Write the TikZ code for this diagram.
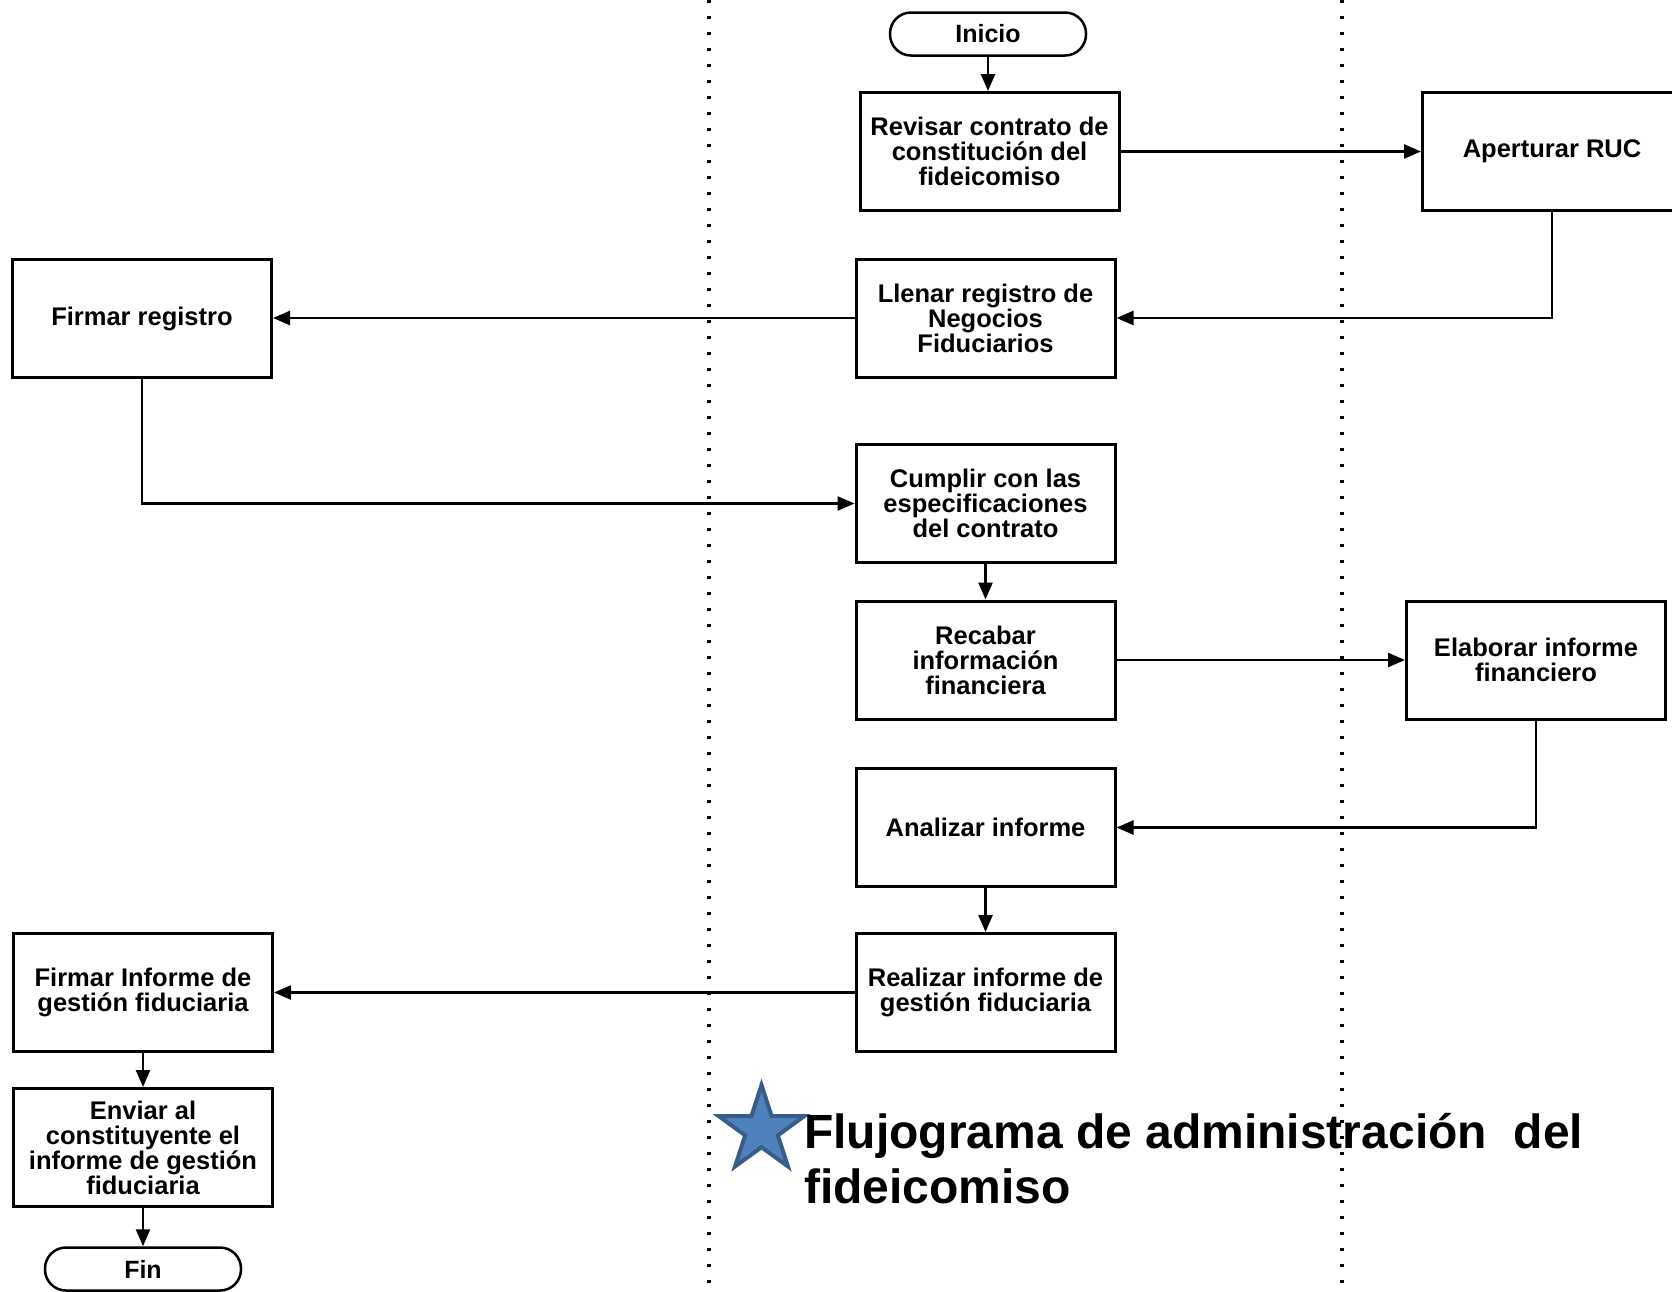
\documentclass[tikz,border=0pt]{standalone}
\usepackage{fontspec}
\setmainfont{Liberation Sans}
\usetikzlibrary{arrows.meta,shapes.geometric}
\definecolor{starfill}{HTML}{4F81BD}
\definecolor{staredge}{HTML}{385D8A}
\begin{document}
\begin{tikzpicture}[x=1pt,y=-1pt,
  stepbox/.style={draw, line width=3pt, minimum width=259pt, minimum height=118pt,
    inner sep=0pt, align=center, font=\fontsize{25.5}{25}\selectfont\bfseries},
  termbox/.style={draw, line width=2.5pt, rounded corners=21pt, minimum width=196pt,
    minimum height=43pt, inner sep=0pt, font=\fontsize{25}{25}\selectfont\bfseries},
  flow/.style={line width=2.5pt, -{Triangle[length=17pt,width=14pt]}},
  lane/.style={line width=3.5pt, dash pattern=on 3pt off 13pt}]

\useasboundingbox (0,0) rectangle (1672,1291);

% swimlane separators
\draw[lane] (709,0) -- (709,1291);
\draw[lane] (1342,0) -- (1342,1291);

% process steps
\node[termbox] (inicio) at (988,34) {Inicio};
\node[stepbox] (revisar) at (989.5,151.5) {Revisar contrato de\\constitución del\\fideicomiso};
\node[stepbox] (ruc) at (1552,151.5) {Aperturar RUC};
\node[stepbox] (llenar) at (985.5,318) {Llenar registro de\\Negocios\\Fiduciarios};
\node[stepbox] (firmar) at (142,318.5) {Firmar registro};
\node[stepbox] (cumplir) at (985.5,503.5) {Cumplir con las\\especificaciones\\del contrato};
\node[stepbox] (recabar) at (985.5,660) {Recabar\\información\\financiera};
\node[stepbox] (elaborar) at (1536,660) {Elaborar informe\\financiero};
\node[stepbox] (analizar) at (985.5,827.5) {Analizar informe};
\node[stepbox] (realizar) at (985.5,992.5) {Realizar informe de\\gestión fiduciaria};
\node[stepbox] (firmarinf) at (143,992.5) {Firmar Informe de\\gestión fiduciaria};
\node[stepbox] (enviar) at (143,1147.5) {Enviar al\\constituyente el\\informe de gestión\\fiduciaria};
\node[termbox] (fin) at (143,1269) {Fin};

% connectors
\draw[flow] (inicio.south) -- (inicio.south |- revisar.north);
\draw[flow] (revisar.east) -- (ruc.west);
\draw[flow] (ruc.south) |- (llenar.east);
\draw[flow] (llenar.west) -- (llenar.west -| firmar.east);
\draw[flow] (firmar.south) |- (cumplir.west);
\draw[flow] (cumplir.south) -- (cumplir.south |- recabar.north);
\draw[flow] (recabar.east) -- (elaborar.west);
\draw[flow] (elaborar.south) |- (analizar.east);
\draw[flow] (analizar.south) -- (analizar.south |- realizar.north);
\draw[flow] (realizar.west) -- (realizar.west -| firmarinf.east);
\draw[flow] (firmarinf.south) -- (firmarinf.south |- enviar.north);
\draw[flow] (enviar.south) -- (enviar.south |- fin.north);

% title with star bullet
\node[star, star points=5, star point ratio=2.618, minimum size=90pt, inner sep=0pt,
  fill=starfill, draw=staredge, line width=4pt] (bullet) at (761.5,1130) {};
\node[anchor=base west, align=left, inner sep=0pt,
  font=\fontsize{48}{55}\selectfont\bfseries] (title) at (804,1203)
  {Flujograma de administración~ del\\fideicomiso};
\end{tikzpicture}
\end{document}
